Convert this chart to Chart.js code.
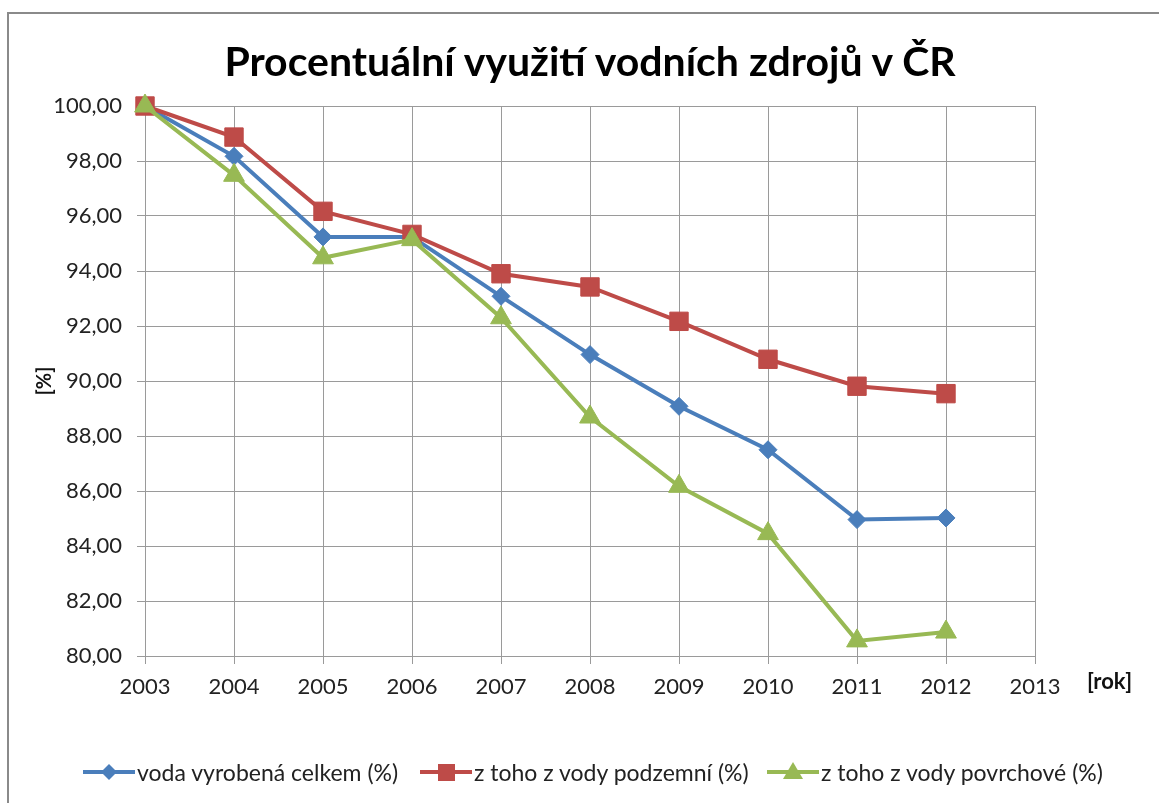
<!DOCTYPE html>
<html lang="cs">
<head>
<meta charset="utf-8">
<title>Procentuální využití vodních zdrojů v ČR</title>
<script src="https://cdn.jsdelivr.net/npm/chart.js@4/dist/chart.umd.min.js"></script>
<style>
  html, body { margin: 0; padding: 0; background: #fff; }
  body { width: 1159px; height: 803px; position: relative; overflow: hidden; font-family: Lato, "Open Sans", sans-serif; color: #222; }
  .frame { position: absolute; left: 7px; top: 12px; width: 1200px; height: 900px; border: 2px solid #8a8a8a; box-sizing: border-box; }
  .chart-box { position: absolute; left: 0; top: 0; width: 1159px; height: 803px; }
  .title { position: absolute; left: 0; width: 1180px; top: 36px; text-align: center; font-weight: 700; font-size: 41px; color: #000; white-space: nowrap; }
  .unit-x { position: absolute; left: 1087px; top: 667px; font-weight: 700; font-size: 22px; color: #111; }
  .legend { position: absolute; top: 758px; left: 0; height: 28px; }
  .legend-item { position: absolute; top: 0; display: flex; align-items: center; white-space: nowrap; font-size: 23px; color: #222; }
  .legend-item svg { margin-right: 2px; }
</style>
</head>
<body>
<div class="frame"></div>
<div class="chart-box"><canvas id="water-chart" width="1159" height="803"></canvas></div>
<div class="title">Procentuální využití vodních zdrojů v ČR</div>
<div class="unit-x">[rok]</div>
<div class="legend" id="legend"></div>
<script>
const years = ['2003', '2004', '2005', '2006', '2007', '2008', '2009', '2010', '2011', '2012', '2013'];
const celkem = [100.00, 98.17, 95.24, 95.24, 93.08, 90.96, 89.08, 87.50, 84.96, 85.02, null];
const podzemni = [100.00, 98.87, 96.17, 95.33, 93.90, 93.42, 92.17, 90.79, 89.81, 89.54, null];
const povrchove = [100.00, 97.48, 94.48, 95.14, 92.30, 88.69, 86.17, 84.45, 80.55, 80.87, null];
const seriesNames = ['voda vyrobená celkem (%)', 'z toho z vody podzemní (%)', 'z toho z vody povrchové (%)'];
const yMin = 80;
const yMax = 100;
const yStep = 2;

const blue = '#4a7ebb';
const red = '#be4b48';
const green = '#98b954';
const gridColor = '#9a9a9a';

const fmtNum = (v) => v.toFixed(2).replace('.', ',');

function makeDataset(label, data, color, style, radius, order) {
  return {
    label,
    data,
    borderColor: color,
    backgroundColor: color,
    pointBackgroundColor: color,
    pointBorderColor: color,
    pointStyle: style,
    pointRadius: radius,
    pointHoverRadius: radius,
    pointBorderWidth: 1,
    borderWidth: 4,
    tension: 0,
    clip: false,
    order,
  };
}

function markerSvg(color, shape) {
  let mark = '';
  if (shape === 'diamond') mark = `<polygon points="26,4 34,12 26,20 18,12" fill="${color}"/>`;
  if (shape === 'square') mark = `<rect x="18" y="4" width="17" height="17" fill="${color}"/>`;
  if (shape === 'triangle') mark = `<polygon points="26,2 36,19 16,19" fill="${color}"/>`;
  return `<svg width="52" height="24" viewBox="0 0 52 24"><line x1="0" y1="12" x2="52" y2="12" stroke="${color}" stroke-width="4"/>${mark}</svg>`;
}

function buildLegend() {
  const items = [
    { name: seriesNames[0], color: blue, shape: 'diamond', left: 83 },
    { name: seriesNames[1], color: red, shape: 'square', left: 420 },
    { name: seriesNames[2], color: green, shape: 'triangle', left: 767 },
  ];
  document.getElementById('legend').innerHTML = items.map((it) => `
    <div class="legend-item" style="left:${it.left}px">${markerSvg(it.color, it.shape)}<span>${it.name}</span></div>
  `).join('');
}

function buildChart() {
  const ctx = document.getElementById('water-chart');
  return new Chart(ctx, {
    type: 'line',
    data: {
      labels: years,
      datasets: [
        makeDataset(seriesNames[0], celkem, blue, 'rectRot', 9, 2),
        makeDataset(seriesNames[1], podzemni, red, 'rect', 13, 1),
        makeDataset(seriesNames[2], povrchove, green, 'triangle', 12, 0),
      ],
    },
    options: {
      responsive: false,
      animation: false,
      events: [],
      layout: { padding: { left: 20, right: 124, top: 106, bottom: 87 } },
      plugins: {
        legend: { display: false },
        title: { display: false },
        tooltip: { enabled: false },
      },
      scales: {
        x: {
          type: 'category',
          offset: false,
          grid: { color: gridColor, lineWidth: 1, tickLength: 8, drawTicks: true },
          border: { color: gridColor, width: 1 },
          ticks: { color: '#222', font: { family: 'Lato', size: 22 }, padding: 10, maxRotation: 0, autoSkip: false },
          afterFit: (scale) => { scale.height = 60; },
        },
        y: {
          min: yMin,
          max: yMax,
          grid: { color: gridColor, lineWidth: 1, tickLength: 8 },
          border: { color: gridColor, width: 1 },
          ticks: {
            stepSize: yStep,
            color: '#222',
            font: { family: 'Lato', size: 22 },
            padding: 15,
            callback: (v) => fmtNum(v),
          },
          title: {
            display: true,
            text: '[%]',
            color: '#111',
            font: { family: 'Lato', size: 20, weight: 'bold' },
            padding: { top: 13, bottom: 0 },
          },
          afterFit: (scale) => { scale.width = 125; },
        },
      },
    },
  });
}

buildLegend();
buildChart();
</script>
</body>
</html>
